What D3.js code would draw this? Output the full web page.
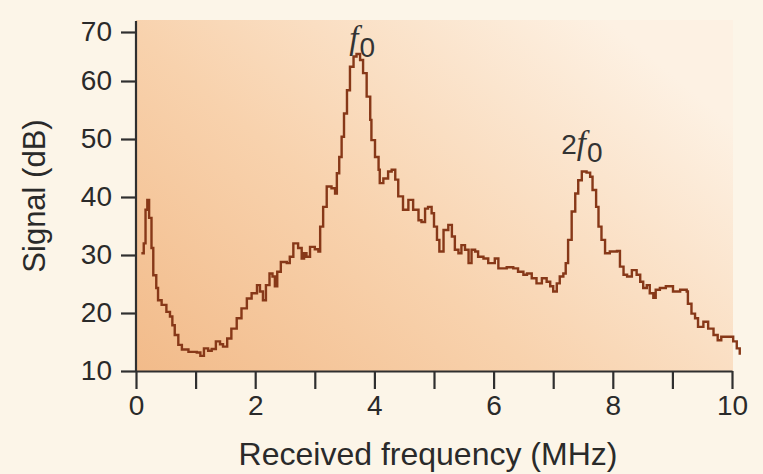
<!DOCTYPE html>
<html>
<head>
<meta charset="utf-8">
<script src="https://cdn.jsdelivr.net/npm/d3@7"></script>
<style>
  body { margin: 0; background: #fcf5e8; }
  svg { display: block; }
</style>
</head>
<body>
<script>
// received spectrum
var freq = [0.09, 0.13, 0.16, 0.19, 0.22, 0.26, 0.29, 0.34, 0.37, 0.43, 0.51, 0.57, 0.61, 0.65, 0.71, 0.77, 0.88, 1.02, 1.08, 1.14,
            1.21, 1.27, 1.34, 1.41, 1.46, 1.53, 1.60, 1.69, 1.77, 1.86, 1.94, 2.03, 2.08, 2.13, 2.18, 2.24, 2.29, 2.33, 2.37, 2.43,
            2.53, 2.58, 2.64, 2.72, 2.78, 2.82, 2.86, 2.92, 3.00, 3.06, 3.09, 3.14, 3.20, 3.28, 3.34, 3.37, 3.41, 3.45, 3.49, 3.54,
            3.59, 3.65, 3.70, 3.76, 3.81, 3.87, 3.93, 3.95, 4.01, 4.07, 4.09, 4.15, 4.23, 4.29, 4.35, 4.40, 4.48, 4.57, 4.65, 4.74,
            4.79, 4.85, 4.90, 4.96, 5.00, 5.05, 5.09, 5.16, 5.24, 5.30, 5.35, 5.41, 5.46, 5.52, 5.58, 5.63, 5.69, 5.74, 5.83, 5.91,
            6.02, 6.08, 6.22, 6.33, 6.41, 6.50, 6.56, 6.64, 6.72, 6.81, 6.89, 6.95, 7.00, 7.06, 7.11, 7.17, 7.21, 7.25, 7.31, 7.37,
            7.42, 7.48, 7.56, 7.62, 7.66, 7.72, 7.76, 7.81, 7.87, 7.95, 8.07, 8.12, 8.18, 8.24, 8.32, 8.40, 8.46, 8.51, 8.57, 8.62,
            8.68, 8.72, 8.79, 8.89, 9.01, 9.13, 9.24, 9.26, 9.32, 9.38, 9.43, 9.52, 9.60, 9.69, 9.76, 9.82, 9.96, 10.02, 10.08, 10.13];
var signal = [30.3, 32.0, 37.8, 39.5, 36.4, 31.2, 26.5, 24.3, 22.2, 21.4, 20.2, 19.4, 17.9, 16.2, 14.5, 13.7, 13.3, 13.2, 12.6, 13.9,
              13.5, 13.8, 15.1, 14.6, 14.2, 15.6, 17.3, 19.1, 20.8, 22.5, 23.4, 24.8, 23.7, 22.2, 24.8, 26.8, 26.3, 24.6, 27.1, 28.8,
              28.6, 29.7, 32.0, 31.2, 29.4, 30.3, 29.7, 31.4, 31.0, 30.6, 34.9, 38.3, 41.8, 41.5, 40.6, 44.1, 46.9, 50.4, 54.4, 58.4,
              62.9, 65.0, 65.5, 64.3, 61.6, 57.3, 53.3, 49.8, 46.9, 44.7, 42.4, 43.2, 44.4, 44.7, 43.0, 40.1, 37.8, 39.5, 37.8, 36.0,
              35.7, 38.0, 38.3, 37.2, 34.9, 32.6, 30.6, 34.3, 35.2, 33.2, 30.9, 30.3, 31.7, 30.9, 28.6, 30.9, 30.6, 29.7, 29.4, 28.6,
              29.4, 27.7, 27.9, 27.7, 27.1, 26.6, 26.8, 26.0, 25.1, 26.0, 25.4, 24.6, 23.7, 25.1, 26.3, 26.8, 28.6, 32.6, 37.5, 40.6,
              42.9, 44.4, 44.2, 43.5, 41.2, 38.3, 34.9, 32.6, 30.3, 30.6, 30.7, 28.0, 26.6, 26.3, 27.4, 26.6, 25.4, 24.3, 24.8, 23.4,
              22.6, 24.0, 24.3, 24.6, 23.7, 24.0, 23.7, 21.6, 19.9, 19.1, 17.6, 18.5, 17.3, 16.2, 15.3, 15.9, 15.9, 15.1, 13.9, 12.8];

var xTicks = [0, 1, 2, 3, 4, 5, 6, 7, 8, 9, 10];
var yTicks = [10, 20, 30, 40, 50, 60, 70];
var peakLabels = [
    { pre: "", f: 3.58, db: 66.5 },
    { pre: "2", f: 7.42, db: 47.5 }
];

window.onload = function () {
    var w = 763, h = 474;

    var svg = d3.select("body").append("svg")
        .attr("width", w)
        .attr("height", h);

    // x: 0..10 MHz, y: the original figure squeezes the 60-70 step a bit
    var x = d3.scaleLinear().domain([0, 10]).range([136, 732]);
    var y = d3.scaleLinear().domain([10, 60, 70]).range([371, 81, 32]);

    // shaded plot panel
    var grad = svg.append("defs").append("linearGradient")
        .attr("id", "panel")
        .attr("x1", 0).attr("y1", 1)
        .attr("x2", 1).attr("y2", 0.3);
    grad.append("stop").attr("offset", 0).attr("stop-color", "#f2bb8a");
    grad.append("stop").attr("offset", 0.45).attr("stop-color", "#f8d2ad");
    grad.append("stop").attr("offset", 1).attr("stop-color", "#fdf1e3");

    svg.append("rect")
        .attr("x", x(0))
        .attr("y", 20)
        .attr("width", 733 - x(0))
        .attr("height", y(10) - 20)
        .style("fill", "url(#panel)");

    // spectrum trace
    var pts = freq.map(function (f, i) { return [f, signal[i]]; });
    var line = d3.line()
        .x(function (d) { return x(d[0]); })
        .y(function (d) { return y(d[1]); })
        .curve(d3.curveStepAfter);

    svg.append("path")
        .datum(pts)
        .attr("d", line)
        .style("fill", "none")
        .style("stroke", "#873818")
        .style("stroke-width", 2.4)
        .style("stroke-linejoin", "miter");

    // axes
    var xAxis = d3.axisBottom(x)
        .tickValues(xTicks)
        .tickSize(18)
        .tickPadding(6)
        .tickSizeOuter(0)
        .tickFormat(function (d) { return d % 2 === 0 ? d : ""; });

    var yAxis = d3.axisLeft(y)
        .tickValues(yTicks)
        .tickSize(15)
        .tickPadding(9)
        .tickSizeOuter(0);

    var gx = svg.append("g")
        .attr("transform", "translate(0," + y(10) + ")")
        .call(xAxis);
    var gy = svg.append("g")
        .attr("transform", "translate(" + x(0) + ",0)")
        .call(yAxis);

    [gx, gy].forEach(function (g) {
        g.select(".domain").style("stroke", "#2f2f2f").style("stroke-width", 2.2);
        g.selectAll(".tick line").style("stroke", "#2f2f2f").style("stroke-width", 2.2);
        g.selectAll(".tick text")
            .style("font-family", "'Liberation Sans', Arial, sans-serif")
            .style("font-size", "28px")
            .style("fill", "#2a2a2a");
    });
    gy.select(".domain").attr("d", "M0,21V" + y(10));

    // axis titles
    svg.append("text")
        .attr("x", 428)
        .attr("y", 465)
        .attr("text-anchor", "middle")
        .style("font-family", "'Liberation Sans', Arial, sans-serif")
        .style("font-size", "32px")
        .style("fill", "#2a2a2a")
        .text("Received frequency (MHz)");

    svg.append("text")
        .attr("transform", "translate(45,196) rotate(-90)")
        .attr("text-anchor", "middle")
        .style("font-family", "'Liberation Sans', Arial, sans-serif")
        .style("font-size", "31px")
        .style("fill", "#2a2a2a")
        .text("Signal (dB)");

    // f0 / 2f0 peak labels
    var lab = svg.selectAll(".peak")
        .data(peakLabels)
        .enter()
        .append("text")
        .attr("class", "peak")
        .attr("x", function (d) { return x(d.f) - (d.pre ? 17 : 0); })
        .attr("y", function (d) { return y(d.db); })
        .style("fill", "#333");

    lab.append("tspan")
        .style("font-family", "'Liberation Sans', Arial, sans-serif")
        .style("font-size", "28px")
        .text(function (d) { return d.pre; });
    lab.append("tspan")
        .style("font-family", "'Liberation Serif', 'Times New Roman', serif")
        .style("font-style", "italic")
        .style("font-size", "33px")
        .text("f");
    lab.append("tspan")
        .attr("dy", 8)
        .attr("dx", 1)
        .style("font-family", "'Liberation Sans', Arial, sans-serif")
        .style("font-size", "28px")
        .text("0");
};
</script>
</body>
</html>
